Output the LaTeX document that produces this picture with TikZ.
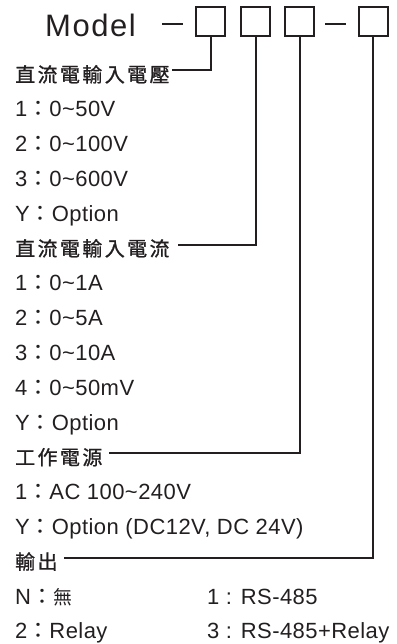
\documentclass[tikz,border=0pt]{standalone}
\usepackage{fontspec}
\setmainfont{Liberation Sans}[LetterSpace=2]
\newfontfamily\modelfont{Liberation Sans}[LetterSpace=5]
\newfontfamily\cjk{Noto Sans CJK TC}
\newfontfamily\cjkhead{Noto Sans CJK TC}[LetterSpace=12,FakeBold=1]
\usetikzlibrary{positioning}
\definecolor{ink}{HTML}{231F20}
\newcommand{\fwcolon}{{\cjk ：}} % full width colon
\newcommand{\tld}{\textasciitilde}

\begin{document}
\begin{tikzpicture}[x=1pt,y=-1pt,
    every node/.style={inner sep=0pt,anchor=base west,text=ink,font=\fontsize{22}{22}\selectfont},
    head/.style={font=\fontsize{20}{20}\selectfont\cjkhead,text height=23pt,text depth=0pt},
    slot/.style={draw=ink,line width=2pt,minimum size=29pt,anchor=center},
    wire/.style={draw=ink,line width=2pt}]
    \useasboundingbox (0,0) rectangle (396,644); % page size of the reference

    % model code
    \node[font=\fontsize{31}{31}\selectfont\modelfont] (model) at (45,36.7) {Model};
    \draw[wire] (162,24) -- (183,24); % dash after Model
    \node[slot] (s1) at (210.5,22) {};
    \node[slot] (s2) at (255.5,22) {};
    \node[slot] (s3) at (299.5,22) {};
    \draw[wire] (325,24) -- (346,24); % second dash
    \node[slot] (s4) at (373,22) {};

    % headers, row k has its baseline at 82+34.8k
    \node[head] (h1) at (15,82) {直流電輸入電壓};
    \node[head] (h2) at (15,{82+34.8*5}) {直流電輸入電流};
    \node[head] (h3) at (15,{82+34.8*11}) {工作電源};
    \node[head] (h4) at (15,{82+34.8*14}) {輸出};

    % options of each field
    \foreach \txt [count=\k] in {50V,100V,600V}
        \node (v\k) at (15,{82+34.8*\k}) {\k\fwcolon 0\tld\txt};
    \node (vy) at (15,{82+34.8*4}) {Y\fwcolon Option};
    \foreach \txt [count=\k] in {1A,5A,10A,50mV}
        \node (a\k) at (15,{82+34.8*(\k+5)}) {\k\fwcolon 0\tld\txt};
    \node (ay) at (15,{82+34.8*10}) {Y\fwcolon Option};
    \node (p1) at (15,{82+34.8*12}) {1\fwcolon AC 100\tld 240V};
    \node (py) at (15,{82+34.8*13}) {Y\fwcolon Option (DC12V, DC 24V)};
    \node (oN) at (15,{82+34.8*15}) {N\fwcolon{\cjk\fontsize{19}{19}\selectfont 無}};
    \node (o2) at (15,{82+34.8*16}) {2\fwcolon Relay};
    \node (o1) at (207,{82+34.8*15}) {1 : RS-485};
    \node (o3) at (207,{82+34.8*16}) {3 : RS-485+Relay};

    % leaders from the slots to the headers
    \draw[wire] (s1.south) |- ([xshift=2pt]h1.east);
    \draw[wire] (s2.south) |- ([xshift=8pt]h2.east);
    \draw[wire] (s3.south) |- ([xshift=6pt]h3.east);
    \draw[wire] (s4.south) |- ([xshift=6pt]h4.east);
\end{tikzpicture}
\end{document}
